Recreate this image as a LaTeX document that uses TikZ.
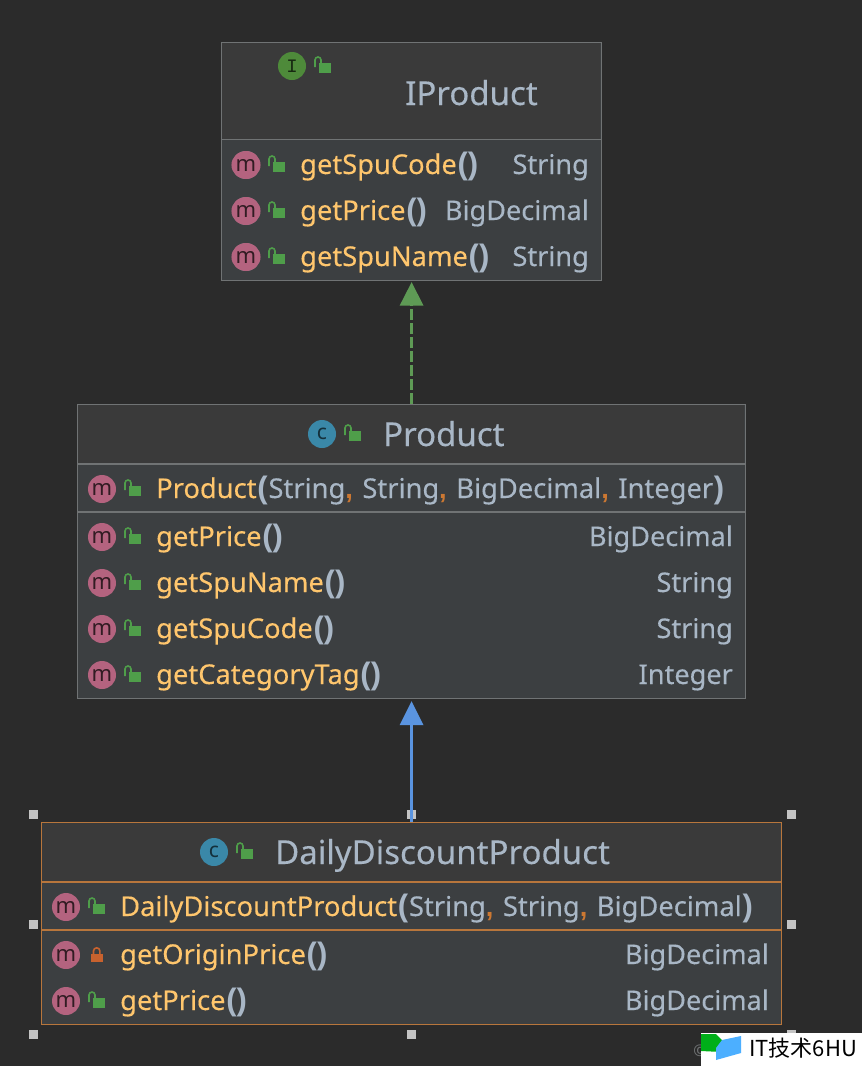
\documentclass[tikz,border=0pt]{standalone}
\usepackage{fontspec}
\usetikzlibrary{shapes.geometric}
\setmainfont[FakeBold=0.25]{Noto Sans}
\newfontfamily\iconfnt{Noto Sans}
\newfontfamily\cjkfont{Noto Sans CJK SC}
\newfontfamily\monofnt{Liberation Mono}
\newfontfamily\parenfnt{Liberation Sans}
\definecolor{bgc}{HTML}{2B2B2B}
\definecolor{headc}{HTML}{3A3A3A}
\definecolor{bodyc}{HTML}{3C3F41}
\definecolor{edgec}{HTML}{707374}
\definecolor{selc}{HTML}{B8763C}
\definecolor{txtc}{HTML}{A9B7C6}
\definecolor{methc}{HTML}{FFC66D}
\definecolor{commac}{HTML}{CC7832}
\definecolor{pinkc}{HTML}{B4637F}
\definecolor{lockc}{HTML}{4F9E4A}
\definecolor{privc}{HTML}{C8622E}
\definecolor{classc}{HTML}{3A88A8}
\definecolor{ifacec}{HTML}{4E8A3A}
\definecolor{handlec}{HTML}{C4C4C4}
\definecolor{implc}{HTML}{5E9A55}
\definecolor{extc}{HTML}{5A94E0}
\tikzset{
  x=1pt,y=-1pt,
  classbox/.style={draw=edgec,line width=1.2pt,fill=bodyc,inner sep=0pt,rectangle,anchor=north west},
  selbox/.style={classbox,draw=selc},
  titletxt/.style={anchor=base west,inner sep=0pt,text=txtc,font=\fontsize{33}{36}\selectfont},
  membertxt/.style={anchor=base west,inner sep=0pt,text=methc,font=\fontsize{27.3}{30}\selectfont},
  typetxt/.style={anchor=base east,inner sep=0pt,text=txtc,font=\fontsize{27.1}{30}\selectfont},
  iconm/.style={circle,fill=pinkc,minimum size=28pt,inner sep=0pt,text=black!72!pinkc,font=\iconfnt\fontsize{22}{24}\selectfont},
  iconc/.style={circle,fill=classc,minimum size=28pt,inner sep=0pt,text=black!65!classc,font=\iconfnt\fontsize{21}{24}\selectfont},
  iconi/.style={circle,fill=ifacec,minimum size=28pt,inner sep=0pt,text=black!70!ifacec,font=\monofnt\fontsize{19}{20}\selectfont},
  handle/.style={rectangle,fill=handlec,minimum size=9pt,inner sep=0pt},
  sepline/.style={line width=1.6pt},
}
\newcommand{\Pn}[1]{\textcolor{txtc}{\parenfnt\bfseries\fontsize{31}{30}\selectfont\kern0.8pt #1\kern0.8pt}}
\newcommand{\Cm}{\textcolor{commac}{\parenfnt\bfseries,}\kern2.4pt}
\newcommand{\Ty}[1]{\textcolor{txtc}{#1}}
\newcommand{\openlock}[2]{%
  \fill[lockc] (#1-3.5,#2-3) rectangle (#1+8.5,#2+6.5);
  \draw[lockc,line width=1.6pt] (#1-7,#2+1) -- (#1-7,#2-6) arc[start angle=180,end angle=0,radius=3pt] -- (#1-1,#2-3);
}
\newcommand{\closedlock}[2]{%
  \fill[privc] (#1-5.5,#2-1) rectangle (#1+7,#2+7);
  \draw[privc,line width=1.6pt] (#1-2.5,#2-1) -- (#1-2.5,#2-4) arc[start angle=180,end angle=0,radius=3.2pt] -- (#1+3.9,#2-1);
}
% name, icon x, y, text x, member text, right x, type
\newcommand{\member}[7]{%
  \node[iconm] (#1i) at (#2,#3) {m};
  \openlock{#2+30}{#3}
  \node[membertxt] (#1t) at (#4,#3+9) {#5};
  \node[typetxt] (#1r) at (#6,#3+9) {\Ty{#7}};
}
\begin{document}
\begin{tikzpicture}
\useasboundingbox (0,0) rectangle (862,1066);
\fill[bgc] (0,0) rectangle (862,1066);

% ---- IProduct
\node[classbox,minimum width=380pt,minimum height=238pt] (iproduct) at (221,42) {};
\fill[headc] (221.6,42.6) rectangle (600.4,139);
\draw[edgec,sepline] (221,139.5) -- (601,139.5);
\node[iconi] (ii) at (292,66) {I};
\openlock{322}{66}
\node[titletxt] (ititle) at (405,105) {IProduct};
\foreach \yy in {165,211,257}{
  \fill[txtc!70!black] (246,\yy) circle (14);
  \fill[bodyc] (246,\yy) circle (11.5);
}
\begin{scope}[iconm/.append style={ellipse,minimum width=19pt,minimum height=28pt}]
\member{ia}{246}{165}{300}{getSpuCode\Pn{()}}{589}{String}
\member{ib}{246}{211}{300}{getPrice\Pn{()}}{589}{BigDecimal}
\member{ic}{246}{257}{300}{getSpuName\Pn{()}}{589}{String}
\end{scope}

% ---- Product
\node[classbox,minimum width=668pt,minimum height=294pt] (product) at (77,404) {};
\fill[headc] (77.6,404.6) rectangle (744.4,464);
\draw[edgec,sepline] (77,464) -- (745,464);
\draw[edgec,sepline] (77,512) -- (745,512);
\node[iconc] (pi) at (322,434) {c};
\openlock{352}{434}
\node[titletxt] (ptitle) at (383,446) {Product};
\member{pa}{102}{489}{156}{Product\Pn{(}\Ty{String}\Cm\ \Ty{String}\Cm\ \Ty{BigDecimal}\Cm\ \Ty{Integer}\Pn{)}}{733}{}
\member{pb}{102}{537}{156}{getPrice\Pn{()}}{733}{BigDecimal}
\member{pc}{102}{583}{156}{getSpuName\Pn{()}}{733}{String}
\member{pd}{102}{629}{156}{getSpuCode\Pn{()}}{733}{String}
\member{pe}{102}{675}{156}{getCategoryTag\Pn{()}}{733}{Integer}

% ---- DailyDiscountProduct
\node[selbox,minimum width=740pt,minimum height=202pt] (daily) at (41,822) {};
\fill[headc] (41.6,822.6) rectangle (780.4,882);
\draw[selc,sepline] (41,882) -- (781,882);
\draw[selc,sepline] (41,930) -- (781,930);
\node[iconc] (di) at (214,852) {c};
\openlock{244}{852}
\node[titletxt] (dtitle) at (275,864) {DailyDiscountProduct};
\member{da}{66}{907}{120}{DailyDiscountProduct\Pn{(}\Ty{String}\Cm\ \Ty{String}\Cm\ \Ty{BigDecimal}\Pn{)}}{769}{}
\node[iconm] (dbi) at (66,955) {m};
\closedlock{96}{955}
\node[membertxt] (dbt) at (120,964) {getOriginPrice\Pn{()}};
\node[typetxt] (dbr) at (769,964) {BigDecimal};
\member{dc}{66}{1001}{120}{getPrice\Pn{()}}{769}{BigDecimal}

% ---- selection handles
\node[handle] (h1) at (33,814) {};
\node[handle] (h2) at (411,814) {};
\node[handle] (h3) at (791,814) {};
\node[handle] (h4) at (33,924) {};
\node[handle] (h5) at (791,924) {};
\node[handle] (h6) at (33,1034) {};
\node[handle] (h7) at (411,1034) {};
\node[handle] (h8) at (791,1034) {};

% ---- connectors
\draw[implc,line width=2.4pt,dash pattern=on 11pt off 3pt] (product.north) -- ([yshift=-22pt]iproduct.south);
\fill[implc] ([yshift=-1pt]iproduct.south) -- ++(-12,23.5) -- ++(24,0) -- cycle;
\draw[extc,line width=2.4pt] (daily.north) -- ([yshift=-24pt]product.south);
\fill[extc] ([yshift=-2pt]product.south) -- ++(-12,24) -- ++(24,0) -- cycle;

% ---- watermark
\node[anchor=base east,inner sep=0pt,text=edgec,font=\iconfnt\fontsize{16}{18}\selectfont] (copy) at (707,1056) {©};
\fill[white] (701,1033) rectangle (862,1066);
\fill[green!65!black!90!cyan] (701,1034) -- (716,1034) -- (722,1040) -- (722,1052) -- (701,1051) -- cycle;
\fill[blue!45!cyan!70!white] (716,1060) -- (741,1053) -- (741,1036) -- (722,1040) -- (716,1048) -- cycle;
\node[anchor=base west,inner sep=0pt,text=black,font=\cjkfont\fontsize{22}{24}\selectfont] (wm) at (749,1056) {IT技术6HU};
\end{tikzpicture}
\end{document}
